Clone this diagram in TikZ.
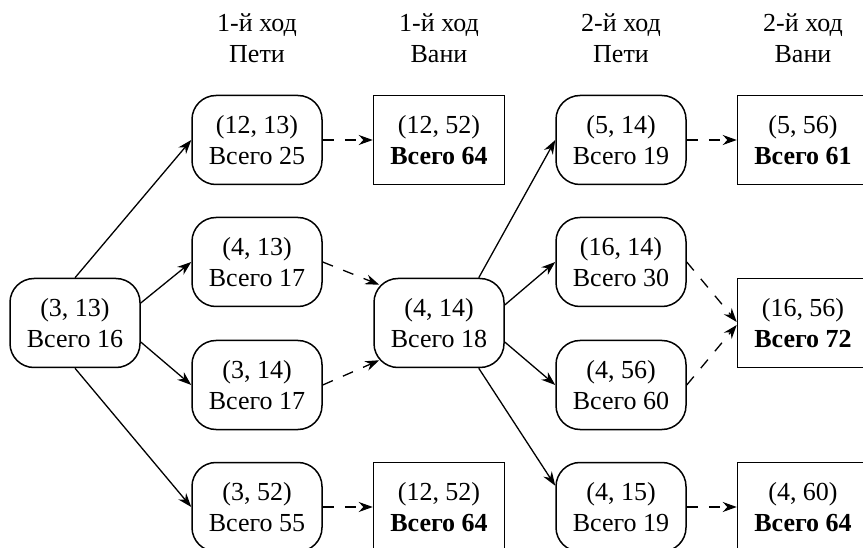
\documentclass[tikz,border=0pt]{standalone}
\usepackage{fontspec}
\setmainfont{Liberation Serif}
\usetikzlibrary{arrows.meta,calc}
\begin{document}
\begin{tikzpicture}[x=1pt,y=-1pt,
  every node/.style={font=\fontsize{26}{31}\selectfont, align=center, inner sep=0pt},
  movebox/.style={draw, line width=1.5pt, rounded corners=24pt, minimum width=130pt, minimum height=89pt},
  finalbox/.style={draw, line width=1.5pt, minimum width=131pt, minimum height=89pt},
  hdr/.style={},
  arr/.style={line width=1.3pt, -{Stealth[length=14pt,width=10pt]}},
  darr/.style={arr, dash pattern=on 11pt off 11pt}]
  \clip (0,0) rectangle (863,548);
  \useasboundingbox (0,0) rectangle (863,548);

  % column headings
  \node[hdr] (h1) at (257,38) {1-й ход\\Пети};
  \node[hdr] (h2) at (439,38) {1-й ход\\Вани};
  \node[hdr] (h3) at (621,38) {2-й ход\\Пети};
  \node[hdr] (h4) at (803,38) {2-й ход\\Вани};

  % positions
  \node[movebox] (r) at (75,323) {(3, 13)\\Всего 16};

  \node[movebox] (a1) at (257,140) {(12, 13)\\Всего 25};
  \node[movebox] (a2) at (257,262) {(4, 13)\\Всего 17};
  \node[movebox] (a3) at (257,385) {(3, 14)\\Всего 17};
  \node[movebox] (a4) at (257,507) {(3, 52)\\Всего 55};

  \node[finalbox] (b1) at (439,140) {(12, 52)\\\textbf{Всего 64}};
  \node[movebox]  (m)  at (439,323) {(4, 14)\\Всего 18};
  \node[finalbox] (b4) at (439,507) {(12, 52)\\\textbf{Всего 64}};

  \node[movebox] (c1) at (621,140) {(5, 14)\\Всего 19};
  \node[movebox] (c2) at (621,262) {(16, 14)\\Всего 30};
  \node[movebox] (c3) at (621,385) {(4, 56)\\Всего 60};
  \node[movebox] (c4) at (621,507) {(4, 15)\\Всего 19};

  \node[finalbox] (d1) at (803,140) {(5, 56)\\\textbf{Всего 61}};
  \node[finalbox] (d2) at (803,323) {(16, 56)\\\textbf{Всего 72}};
  \node[finalbox] (d4) at (803,507) {(4, 60)\\\textbf{Всего 64}};

  % first move of Petya
  \draw[arr] (r.north) -- (a1.west);
  \draw[arr] ($(r.east)+(0,-20)$) -- (a2.west);
  \draw[arr] ($(r.east)+(0,19)$) -- (a3.west);
  \draw[arr] (r.south) -- (a4.west);

  % first move of Vanya
  \draw[darr] (a1.east) -- (b1.west);
  \draw[darr] (a2.east) -- ($(m.north west)+(6,7)$);
  \draw[darr] (a3.east) -- ($(m.south west)+(6,-8)$);
  \draw[darr] (a4.east) -- (b4.west);

  % second move of Petya
  \draw[arr] ($(m.north east)+(-26,0)$) -- (c1.west);
  \draw[arr] ($(m.east)+(0,-18)$) -- (c2.west);
  \draw[arr] ($(m.east)+(0,19)$) -- (c3.west);
  \draw[arr] ($(m.south east)+(-26,0)$) -- ($(c4.north west)+(0,24)$);

  % second move of Vanya
  \draw[darr] (c1.east) -- (d1.west);
  \draw[darr] (c2.east) -- ($(d2.west)+(0,-1)$);
  \draw[darr] (c3.east) -- ($(d2.west)+(0,2)$);
  \draw[darr] (c4.east) -- (d4.west);
\end{tikzpicture}
\end{document}
